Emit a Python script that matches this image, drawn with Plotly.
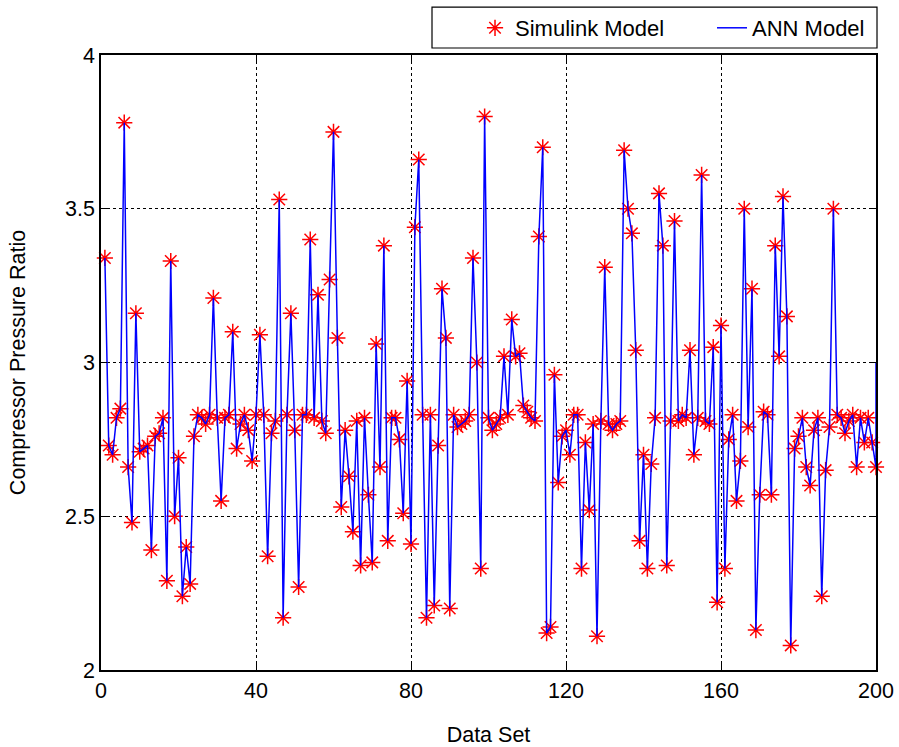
import plotly.graph_objects as go

data_set = list(range(1, 201))

simulink_model = [
    3.34, 2.73, 2.70, 2.82, 2.85, 3.78, 2.66, 2.48, 3.16, 2.71,
    2.72, 2.73, 2.39, 2.76, 2.77, 2.82, 2.29, 3.33, 2.50, 2.69,
    2.24, 2.40, 2.28, 2.76, 2.83, 2.82, 2.80, 2.83, 3.21, 2.82,
    2.55, 2.82, 2.83, 3.10, 2.72, 2.80, 2.83, 2.78, 2.68, 2.83,
    3.09, 2.83, 2.37, 2.77, 2.81, 3.53, 2.17, 2.83, 3.16, 2.78,
    2.27, 2.83, 2.83, 3.40, 2.82, 3.22, 2.81, 2.77, 3.27, 3.75,
    3.08, 2.53, 2.78, 2.63, 2.45, 2.81, 2.34, 2.82, 2.57, 2.35,
    3.06, 2.66, 3.38, 2.42, 2.82, 2.82, 2.75, 2.51, 2.94, 2.41,
    3.44, 3.66, 2.83, 2.17, 2.83, 2.21, 2.73, 3.24, 3.08, 2.20,
    2.83, 2.79, 2.80, 2.81, 2.83, 3.34, 3.00, 2.33, 3.80, 2.82,
    2.78, 2.80, 2.82, 3.02, 2.83, 3.14, 3.02, 3.03, 2.86, 2.84,
    2.82, 2.81, 3.41, 3.70, 2.12, 2.14, 2.96, 2.61, 2.76, 2.78,
    2.70, 2.83, 2.83, 2.33, 2.74, 2.52, 2.80, 2.11, 2.81, 3.31,
    2.80, 2.78, 2.80, 2.81, 3.69, 3.50, 3.42, 3.04, 2.42, 2.70,
    2.33, 2.67, 2.82, 3.55, 3.38, 2.34, 2.81, 3.46, 2.81, 2.83,
    2.82, 3.04, 2.70, 2.82, 3.61, 2.81, 2.80, 3.05, 2.22, 3.12,
    2.33, 2.75, 2.83, 2.55, 2.68, 3.50, 2.79, 3.24, 2.13, 2.57,
    2.84, 2.83, 2.57, 3.38, 3.02, 3.54, 3.15, 2.08, 2.72, 2.76,
    2.82, 2.66, 2.60, 2.78, 2.82, 2.24, 2.65, 2.79, 3.50, 2.83,
    2.82, 2.77, 2.81, 2.83, 2.66, 2.82, 2.74, 2.82, 2.74, 2.66,
]

# ANN model output follows the Simulink values and ends with a rise at the right edge
ann_x = data_set + [200]
ann_model = simulink_model + [3.00]

x_ticks = [0, 40, 80, 120, 160, 200]
y_ticks = [2, 2.5, 3, 3.5, 4]
y_tick_labels = ["2", "2.5", "3", "3.5", "4"]

FONT = "Liberation Sans, Arial, sans-serif"

fig = go.Figure()
fig.add_trace(go.Scatter(
    x=data_set, y=simulink_model, mode="markers", name="Simulink Model",
    marker=dict(symbol="asterisk-open", size=13.5, color="red",
                line=dict(color="red", width=1.5)),
    cliponaxis=False, legend="legend",
))
fig.add_trace(go.Scatter(
    x=ann_x, y=ann_model, mode="lines", name="ANN Model",
    line=dict(color="blue", width=1.5), legend="legend2",
))

axis_common = dict(
    showline=True, linecolor="black", linewidth=1.5, mirror="ticks",
    ticks="inside", ticklen=6, tickcolor="black", tickwidth=1,
    showgrid=True, gridcolor="black", griddash="dot", gridwidth=1,
    zeroline=False, automargin=False,
    tickfont=dict(family=FONT, size=21.5, color="black"),
)

fig.update_xaxes(
    range=[0, 200], tickvals=x_ticks,
    title=dict(text="Data Set", font=dict(family=FONT, size=21.5, color="black"), standoff=26),
    **axis_common,
)
fig.update_yaxes(
    range=[2, 4], tickvals=y_ticks, ticktext=y_tick_labels,
    title=dict(text="Compressor Pressure Ratio", font=dict(family=FONT, size=21.5, color="black"), standoff=34),
    **axis_common,
)

legend_common = dict(
    orientation="h", yanchor="middle", y=1.0439, xanchor="left",
    bgcolor="rgba(0,0,0,0)", borderwidth=0,
    font=dict(family=FONT, size=22, color="black"),
)

fig.update_layout(
    width=899, height=747,
    margin=dict(l=101, r=23, t=55, b=77, autoexpand=False),
    paper_bgcolor="white", plot_bgcolor="white",
    font=dict(family=FONT, size=21.5, color="black"),
    showlegend=True,
    legend=dict(x=0.4826, **legend_common),
    legend2=dict(x=0.7884, **legend_common),
    shapes=[dict(
        type="rect", xref="paper", yref="paper",
        x0=0.4271, x1=1.0013, y0=1.0114, y1=1.0780,
        line=dict(color="black", width=1.2), fillcolor="white", layer="below",
    )],
)

# remove the default 8px page margin so the 899x747 figure fills the window exactly
fig.write_html(
    "out.html",
    config={"displayModeBar": False},
    post_script="document.body.style.margin='0px';document.documentElement.style.overflow='hidden';",
)
